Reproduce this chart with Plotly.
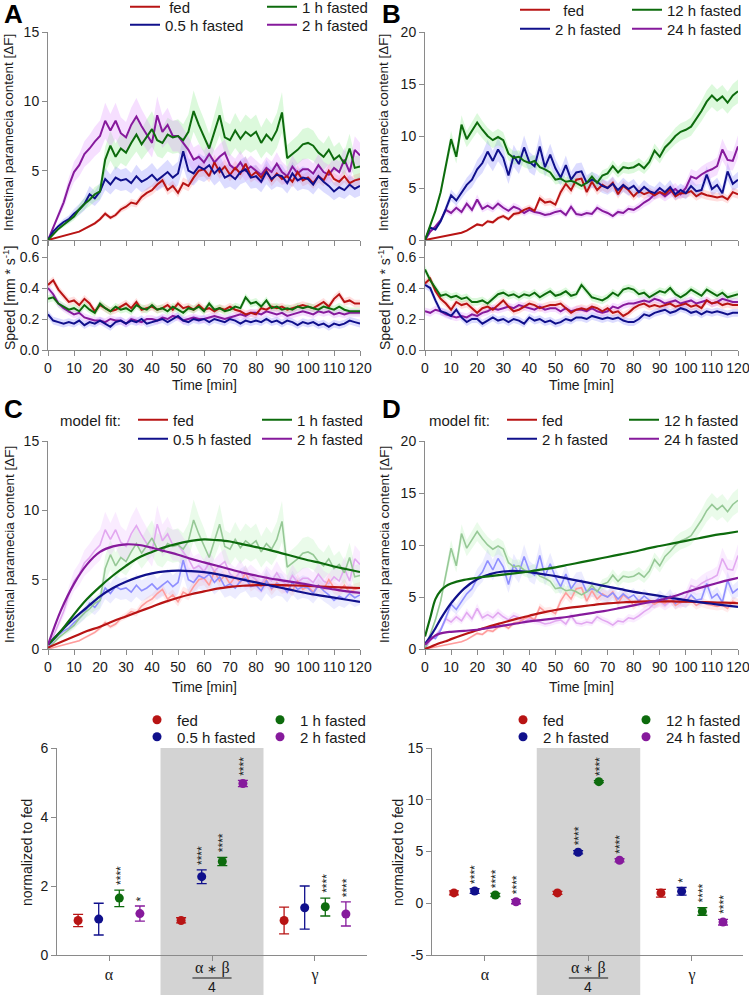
import plotly.graph_objects as go

W, H = 749, 995
FONT = "Liberation Sans, Arial, sans-serif"
SERIF = "Liberation Serif, Times New Roman, serif"
TXT = "#1a1a1a"
AXC = "#8a8a8a"

# ---------------- data ----------------
TIME = list(range(0, 121, 2))
TIME_TICKS = list(range(0, 121, 10))

NAMES_AC = ["fed", "0.5 h fasted", "1 h fasted", "2 h fasted"]
NAMES_BD = ["fed", "2 h fasted", "12 h fasted", "24 h fasted"]

# Panel A – intestinal paramecia content [dF]
A_FED = [0.0, 0.1, 0.2, 0.3, 0.4, 0.5, 0.6, 0.8, 1.0, 1.2,
         1.5, 1.9, 1.6, 1.8, 2.2, 2.4, 2.7, 2.6, 3.1, 3.4,
         3.6, 4.0, 4.3, 3.6, 3.9, 3.4, 4.1, 3.9, 4.5, 5.0,
         5.1, 4.6, 5.6, 4.9, 5.3, 4.7, 5.2, 4.8, 5.5, 4.6,
         4.9, 4.5, 5.0, 4.3, 4.8, 4.4, 4.6, 4.2, 4.9, 4.3,
         4.5, 4.1, 4.6, 4.3, 5.0, 4.4, 4.2, 4.6, 4.1, 4.3,
         4.4]
A_H05 = [0.0, 0.6, 1.0, 1.3, 1.5, 1.9, 2.2, 2.6, 3.3, 3.0,
         3.5, 4.4, 4.0, 4.5, 4.3, 4.4, 4.1, 4.6, 4.2, 4.4,
         4.7, 4.3, 4.6, 4.9, 4.5, 4.8, 6.4, 5.0, 4.8, 5.3,
         5.1, 5.4, 4.8, 5.2, 4.5, 4.7, 4.4, 4.9, 5.1, 4.5,
         4.6, 4.2, 4.9, 4.4, 4.7, 4.6, 4.1, 4.8, 4.3, 4.5,
         4.4, 4.0, 4.6, 4.2, 3.9, 3.5, 3.8, 3.6, 4.0, 3.7,
         3.9]
A_H1 = [0.0, 0.4, 0.8, 1.1, 1.4, 1.7, 2.2, 2.6, 2.9, 3.3,
        3.5, 5.8, 6.8, 6.0, 6.6, 6.3, 7.0, 7.6, 6.9, 7.5,
        8.0, 7.2, 7.0, 7.6, 7.4, 7.5, 7.2, 7.8, 9.3, 8.3,
        7.5, 6.6, 7.8, 9.0, 7.4, 7.2, 7.9, 7.3, 7.8, 7.5,
        7.8, 7.0, 7.6, 7.2, 7.9, 9.2, 5.9, 6.2, 6.5, 6.9,
        7.0, 6.8, 6.3, 6.0, 6.5, 5.8, 6.1, 5.5, 6.6, 5.2,
        5.3]
A_H2 = [0.0, 0.9, 1.8, 2.7, 3.9, 4.9, 5.4, 6.2, 6.6, 7.1,
        7.5, 8.6, 7.9, 8.6, 7.7, 7.4, 8.3, 8.9, 8.2, 7.6,
        7.0, 9.0, 7.8, 8.3, 7.5, 7.5, 7.0, 6.5, 5.8, 6.0,
        5.6, 6.2, 5.6, 6.0, 6.3, 5.4, 5.1, 5.6, 5.0, 5.3,
        5.0, 4.7, 5.2, 4.9, 5.5, 4.9, 4.6, 5.3, 4.8, 5.1,
        5.1, 4.8, 5.4, 4.9, 4.7, 5.2, 4.9, 5.8, 4.9, 6.5,
        6.1]
A_SEM_REL = [0.10, 0.18, 0.16, 0.15]

# Panel B – intestinal paramecia content [dF]
B_FED = [0.0, 0.1, 0.2, 0.3, 0.4, 0.5, 0.6, 0.7, 0.9, 1.2,
         1.5, 1.4, 1.8, 1.7, 2.1, 2.3, 2.0, 2.5, 2.6, 2.9,
         3.1, 2.8, 4.0, 3.6, 3.7, 3.4, 4.6, 5.4, 4.8, 5.8,
         5.9, 4.6, 5.6, 4.8, 5.3, 5.0, 5.5, 4.4, 5.2, 4.8,
         4.2, 4.7, 4.4, 4.6, 4.3, 4.6, 4.4, 4.9, 4.2, 4.5,
         4.5, 4.7, 4.2, 4.5, 4.3, 4.2, 4.1, 4.2, 3.9, 4.6,
         4.4]
B_H2 = [0.0, 1.2, 1.0, 1.8, 3.0, 4.3, 3.8, 4.6, 5.3, 5.8,
        6.8, 7.4, 8.5, 7.6, 8.7, 7.9, 6.2, 8.1, 7.3, 8.9,
        7.5, 7.1, 9.0, 7.0, 8.2, 6.9, 6.0, 7.2, 5.8, 6.5,
        6.6, 5.5, 5.8, 5.6, 5.2, 5.0, 5.4, 4.8, 5.3, 4.9,
        5.2, 4.6, 5.1, 4.7, 4.5, 5.0, 4.6, 5.1, 4.4, 4.8,
        4.5, 5.2, 4.7, 4.8, 6.3, 4.9, 5.3, 4.5, 6.6, 5.4,
        5.8]
B_H12 = [0.0, 1.5, 2.8, 4.6, 7.1, 9.7, 8.0, 11.1, 9.7, 10.5,
         11.3, 10.6, 10.0, 9.6, 9.9, 9.6, 8.3, 7.9, 8.0, 7.6,
         7.4, 7.6, 7.0, 6.8, 6.5, 5.8, 5.9, 5.6, 5.7, 5.5,
         5.2, 5.5, 6.1, 5.5, 6.2, 6.4, 7.1, 6.5, 7.0, 6.9,
         7.0, 7.3, 6.9, 7.5, 8.6, 8.0, 8.9, 9.4, 10.0, 10.4,
         10.6, 10.9, 11.6, 12.4, 13.3, 13.9, 13.4, 13.8, 13.2, 13.9,
         14.3]
B_H24 = [0.0, 0.8, 1.3, 1.9, 2.9, 2.6, 3.1, 2.7, 3.5, 2.9,
         3.9, 3.0, 3.3, 3.0, 3.5, 3.1, 2.8, 3.2, 3.0, 2.6,
         2.9, 2.7, 2.6, 2.4, 2.5, 2.7, 2.8, 2.4, 3.2, 2.5,
         2.4, 2.6, 2.5, 3.1, 2.8, 2.6, 2.3, 2.7, 2.6, 3.0,
         2.9, 3.2, 3.6, 3.9, 4.4, 4.6, 4.2, 4.6, 4.9, 4.4,
         5.0, 6.1, 5.9, 6.3, 6.6, 6.8, 7.1, 8.7, 7.7, 7.6,
         9.0]
B_SEM_REL = [0.10, 0.13, 0.08, 0.12]

# Speed [mm/s]
SA_FED = [0.42, 0.45, 0.39, 0.35, 0.31, 0.32, 0.29, 0.33, 0.30, 0.25,
          0.29, 0.27, 0.25, 0.26, 0.28, 0.30, 0.27, 0.31, 0.26, 0.27,
          0.28, 0.26, 0.27, 0.29, 0.26, 0.30, 0.27, 0.28, 0.26, 0.29,
          0.26, 0.27, 0.25, 0.27, 0.26, 0.28, 0.26, 0.25, 0.23, 0.24,
          0.23, 0.27, 0.26, 0.28, 0.27, 0.28, 0.26, 0.27, 0.28, 0.29,
          0.28, 0.27, 0.29, 0.31, 0.28, 0.33, 0.36, 0.31, 0.32, 0.30,
          0.30]
SA_H05 = [0.23, 0.19, 0.18, 0.17, 0.18, 0.17, 0.19, 0.16, 0.18, 0.17,
          0.19, 0.17, 0.15, 0.18, 0.19, 0.17, 0.19, 0.18, 0.20, 0.17,
          0.18, 0.19, 0.20, 0.18, 0.20, 0.22, 0.19, 0.18, 0.20, 0.19,
          0.20, 0.18, 0.20, 0.19, 0.18, 0.20, 0.19, 0.17, 0.19, 0.18,
          0.19, 0.18, 0.20, 0.18, 0.19, 0.17, 0.19, 0.18, 0.16, 0.18,
          0.17, 0.18, 0.16, 0.17, 0.15, 0.17, 0.16, 0.17, 0.19, 0.18,
          0.17]
SA_H1 = [0.33, 0.34, 0.30, 0.28, 0.26, 0.27, 0.25, 0.29, 0.26, 0.24,
         0.30, 0.27, 0.25, 0.28, 0.26, 0.27, 0.25, 0.29, 0.27, 0.26,
         0.29, 0.26, 0.27, 0.25, 0.28, 0.26, 0.24, 0.27, 0.26, 0.28,
         0.25, 0.30, 0.26, 0.27, 0.25, 0.26, 0.28, 0.27, 0.34, 0.30,
         0.31, 0.28, 0.32, 0.27, 0.28, 0.26, 0.27, 0.26, 0.28, 0.27,
         0.28, 0.27, 0.26, 0.28, 0.27, 0.26, 0.28, 0.26, 0.25, 0.25,
         0.25]
SA_H2 = [0.40, 0.36, 0.30, 0.27, 0.25, 0.23, 0.24, 0.21, 0.20, 0.19,
         0.19, 0.18, 0.20, 0.19, 0.19, 0.17, 0.20, 0.19, 0.18, 0.20,
         0.20, 0.19, 0.21, 0.20, 0.22, 0.21, 0.19, 0.20, 0.21, 0.20,
         0.20, 0.21, 0.22, 0.21, 0.20, 0.21, 0.22, 0.23, 0.22, 0.24,
         0.24, 0.23, 0.25, 0.24, 0.23, 0.24, 0.22, 0.23, 0.24, 0.25,
         0.24, 0.23, 0.25, 0.24, 0.25, 0.23, 0.24, 0.23, 0.24, 0.24,
         0.24]
SB_FED = [0.43, 0.46, 0.38, 0.33, 0.30, 0.26, 0.31, 0.29, 0.30, 0.27,
          0.24, 0.27, 0.28, 0.26, 0.29, 0.32, 0.28, 0.25, 0.26, 0.28,
          0.30, 0.29, 0.27, 0.28, 0.29, 0.29, 0.30, 0.27, 0.24, 0.26,
          0.27, 0.26, 0.28, 0.27, 0.25, 0.27, 0.24, 0.25, 0.22, 0.24,
          0.27, 0.29, 0.30, 0.28, 0.29, 0.28, 0.29, 0.30, 0.28, 0.29,
          0.30, 0.28, 0.29, 0.27, 0.32, 0.30, 0.31, 0.29, 0.30, 0.29,
          0.29]
SB_H2 = [0.42, 0.40, 0.32, 0.25, 0.24, 0.22, 0.26, 0.21, 0.18, 0.20,
         0.20, 0.17, 0.19, 0.21, 0.19, 0.20, 0.18, 0.20, 0.19, 0.17,
         0.21, 0.19, 0.20, 0.18, 0.19, 0.17, 0.18, 0.20, 0.19, 0.21,
         0.21, 0.20, 0.22, 0.21, 0.20, 0.21, 0.20, 0.21, 0.19, 0.18,
         0.18, 0.20, 0.23, 0.22, 0.24, 0.25, 0.26, 0.24, 0.25, 0.27,
         0.26, 0.24, 0.25, 0.23, 0.25, 0.24, 0.25, 0.24, 0.23, 0.24,
         0.24]
SB_H12 = [0.52, 0.45, 0.40, 0.35, 0.36, 0.34, 0.35, 0.33, 0.34, 0.31,
          0.31, 0.32, 0.30, 0.33, 0.36, 0.37, 0.35, 0.36, 0.34, 0.36,
          0.35, 0.37, 0.34, 0.36, 0.38, 0.35, 0.36, 0.38, 0.35, 0.36,
          0.42, 0.38, 0.34, 0.33, 0.32, 0.34, 0.37, 0.35, 0.39, 0.40,
          0.39, 0.36, 0.37, 0.34, 0.36, 0.38, 0.37, 0.40, 0.36, 0.34,
          0.36, 0.39, 0.37, 0.35, 0.39, 0.37, 0.35, 0.37, 0.34, 0.35,
          0.36]
SB_H24 = [0.25, 0.24, 0.26, 0.25, 0.23, 0.22, 0.21, 0.22, 0.21, 0.23,
          0.22, 0.24, 0.25, 0.27, 0.26, 0.27, 0.28, 0.27, 0.29, 0.28,
          0.27, 0.26, 0.28, 0.26, 0.27, 0.27, 0.25, 0.27, 0.25, 0.26,
          0.26, 0.25, 0.27, 0.25, 0.24, 0.25, 0.28, 0.27, 0.29, 0.30,
          0.30, 0.31, 0.32, 0.31, 0.33, 0.32, 0.30, 0.31, 0.32, 0.30,
          0.31, 0.32, 0.30, 0.31, 0.32, 0.30, 0.31, 0.33, 0.32, 0.31,
          0.31]
SPEED_SEM = 0.025

# Panel C – model fits
FIT_T_C = list(range(0, 121, 5))
C_FIT_FED = [0.1, 0.5, 0.9, 1.3, 1.6, 2.0, 2.35, 2.7, 3.05, 3.4, 3.7, 3.95, 4.15,
             4.35, 4.48, 4.56, 4.6, 4.62, 4.6, 4.58, 4.55, 4.5, 4.47, 4.43, 4.4]
C_FIT_H05 = [0.3, 1.3, 2.2, 3.0, 3.8, 4.4, 4.85, 5.2, 5.45, 5.6, 5.65, 5.62, 5.55,
             5.4, 5.2, 5.0, 4.8, 4.6, 4.4, 4.2, 4.0, 3.85, 3.7, 3.55, 3.4]
C_FIT_H1 = [0.3, 1.3, 2.5, 3.6, 4.5, 5.3, 6.0, 6.6, 7.0, 7.35, 7.6, 7.8, 7.9,
            7.85, 7.75, 7.55, 7.35, 7.15, 6.9, 6.65, 6.4, 6.2, 5.95, 5.75, 5.55]
C_FIT_H2 = [0.3, 2.8, 4.7, 6.1, 7.0, 7.4, 7.55, 7.5, 7.3, 7.05, 6.8, 6.5, 6.25,
            6.0, 5.75, 5.5, 5.3, 5.1, 4.95, 4.8, 4.65, 4.45, 4.3, 4.15, 4.05]

# Panel D – model fits
FIT_T_D = [0, 2, 4, 6, 8, 10] + list(range(15, 121, 5))
D_FIT_FED = [0.0, 0.2, 0.4, 0.6, 0.75, 0.95, 1.4, 1.8, 2.2, 2.55, 2.9, 3.2, 3.5, 3.75,
             3.95, 4.1, 4.25, 4.38, 4.47, 4.53, 4.57, 4.58, 4.57, 4.55, 4.52, 4.48, 4.45, 4.4]
D_FIT_H2 = [0.5, 1.2, 2.0, 2.9, 3.7, 4.4, 5.8, 6.7, 7.2, 7.45, 7.5, 7.4, 7.2, 7.0,
            6.75, 6.5, 6.25, 6.0, 5.75, 5.5, 5.3, 5.1, 4.9, 4.7, 4.5, 4.35, 4.2, 4.05]
D_FIT_H12 = [1.2, 3.0, 4.8, 5.6, 6.05, 6.3, 6.65, 6.85, 7.0, 7.15, 7.3, 7.45, 7.65, 7.85,
             8.1, 8.35, 8.6, 8.85, 9.1, 9.35, 9.65, 9.9, 10.15, 10.4, 10.65, 10.9, 11.1, 11.3]
D_FIT_H24 = [0.4, 0.9, 1.3, 1.5, 1.6, 1.65, 1.75, 1.85, 2.05, 2.25, 2.45, 2.65, 2.8, 2.95,
             3.1, 3.3, 3.5, 3.7, 3.95, 4.2, 4.45, 4.7, 5.05, 5.45, 5.85, 6.2, 6.55, 6.85]

# Bottom panels – parameters normalized to fed
PARAM_TICKS = ["α", " ", "γ"]
PARAM_FRAC_TOP = "α <span style='font-size:12px'>∗</span> β"
PARAM_FRAC_BOTTOM = "4"
GROUP_OFFSETS = [-0.3, -0.1, 0.1, 0.3]

L_MEAN = [[1.0, 1.0, 1.0], [1.04, 2.27, 1.37], [1.65, 2.71, 1.40], [1.20, 4.97, 1.19]]
L_HI = [[1.18, 1.08, 1.39], [1.50, 2.47, 2.00], [1.88, 2.83, 1.65], [1.42, 5.06, 1.54]]
L_LO = [[0.82, 0.93, 0.61], [0.58, 2.07, 0.75], [1.40, 2.59, 1.13], [0.98, 4.88, 0.84]]
L_STARS = [["", "", ""], ["", "****", ""], ["****", "****", "****"], ["*", "****", "****"]]

R_MEAN = [[1.0, 1.0, 1.0], [1.18, 4.93, 1.15], [0.80, 11.75, -0.80], [0.15, 4.15, -1.82]]
R_HI = [[1.20, 1.15, 1.35], [1.40, 5.08, 1.52], [0.95, 11.85, -0.42], [0.35, 4.30, -1.55]]
R_LO = [[0.80, 0.85, 0.60], [0.96, 4.78, 0.78], [0.65, 11.65, -1.16], [-0.05, 4.00, -2.10]]
R_STARS = [["", "", ""], ["****", "****", "*"], ["****", "****", "****"], ["****", "****", "****"]]

# ---------------- styles ----------------
COL = ["#b81414", "#10108c", "#0d6b0d", "#861a9c"]
BAND = ["rgba(255,140,140,0.28)", "rgba(130,130,255,0.28)",
        "rgba(140,235,140,0.30)", "rgba(225,150,255,0.30)"]
FADE = ["#ff9c9c", "#8f8fff", "#96c896", "#e2a8f0"]
FADEBAND = ["rgba(255,170,170,0.22)", "rgba(170,170,255,0.22)",
            "rgba(170,240,170,0.25)", "rgba(235,180,255,0.25)"]


def py(p):
    return 1 - p / H


def px(p):
    return p / W


XL = [px(48), px(360)]
XR = [px(425), px(738)]
Y_TOP = [py(240), py(32)]
Y_SPD = [py(350), py(240)]
Y_MID = [py(649), py(441)]
Y_BOT = [py(955), py(748)]
XBL = [px(57), px(367)]
XBR = [px(432), px(743)]

fig = go.Figure()

legend_specs = []


def new_legend(xpx, ypx):
    n = len(legend_specs) + 1
    lid = "legend" if n == 1 else f"legend{n}"
    legend_specs.append((lid, xpx, ypx))
    return lid


def band(x, y, sem, rel, fill, xa, ya):
    if rel:
        up = [v * (1 + sem) for v in y]
        lo = [v * (1 - sem) for v in y]
    else:
        up = [v + sem for v in y]
        lo = [v - sem for v in y]
    fig.add_trace(go.Scatter(x=x + x[::-1], y=up + lo[::-1], fill="toself", fillcolor=fill,
                             line=dict(width=0), mode="lines", hoverinfo="skip",
                             showlegend=False, xaxis=xa, yaxis=ya))


def line(x, y, color, xa, ya, width=2.0, name=None, legend=None, shape="linear"):
    fig.add_trace(go.Scatter(x=x, y=y, mode="lines", line=dict(color=color, width=width, shape=shape),
                             name=name, showlegend=legend is not None,
                             legend=legend if legend else "legend",
                             xaxis=xa, yaxis=ya))


A_SERIES = [A_FED, A_H05, A_H1, A_H2]
B_SERIES = [B_FED, B_H2, B_H12, B_H24]
SA_SERIES = [SA_FED, SA_H05, SA_H1, SA_H2]
SB_SERIES = [SB_FED, SB_H2, SB_H12, SB_H24]
C_FITS = [C_FIT_FED, C_FIT_H05, C_FIT_H1, C_FIT_H2]
D_FITS = [D_FIT_FED, D_FIT_H2, D_FIT_H12, D_FIT_H24]

DRAW_ORDER = [3, 0, 1, 2]

LEG_A = [(125, 7), (125, 25), (262, 7), (262, 25)]
LEG_B = [(515, 10), (515, 29), (627, 10), (627, 29)]
LEG_C = [(133, 420), (133, 439), (257, 420), (257, 439)]
LEG_D = [(502, 420), (502, 439), (624, 420), (624, 439)]
LEG_BL = [(137, 720), (137, 737), (260, 720), (260, 737)]
LEG_BR = [(503, 720), (503, 737), (626, 720), (626, 737)]

LEG_NAMES_A = ["\u00a0fed"] + NAMES_AC[1:]
LEG_NAMES_B = ["\u00a0\u00a0fed"] + NAMES_BD[1:]

# Panel A
for i in range(4):
    band(TIME, A_SERIES[i], A_SEM_REL[i], True, BAND[i], "x", "y")
for i in DRAW_ORDER:
    lid = new_legend(*LEG_A[i])
    line(TIME, A_SERIES[i], COL[i], "x", "y", name=LEG_NAMES_A[i], legend=lid)
for i in range(4):
    band(TIME, SA_SERIES[i], SPEED_SEM, False, BAND[i], "x2", "y2")
for i in DRAW_ORDER:
    line(TIME, SA_SERIES[i], COL[i], "x2", "y2")

# Panel B
for i in range(4):
    band(TIME, B_SERIES[i], B_SEM_REL[i], True, BAND[i], "x3", "y3")
for i in DRAW_ORDER:
    lid = new_legend(*LEG_B[i])
    line(TIME, B_SERIES[i], COL[i], "x3", "y3", name=LEG_NAMES_B[i], legend=lid)
for i in range(4):
    band(TIME, SB_SERIES[i], SPEED_SEM, False, BAND[i], "x4", "y4")
for i in DRAW_ORDER:
    line(TIME, SB_SERIES[i], COL[i], "x4", "y4")

# Panel C
for i in range(4):
    band(TIME, A_SERIES[i], A_SEM_REL[i], True, FADEBAND[i], "x5", "y5")
for i in DRAW_ORDER:
    line(TIME, A_SERIES[i], FADE[i], "x5", "y5", width=1.6)
for i in range(4):
    lid = new_legend(*LEG_C[i])
    line(FIT_T_C, C_FITS[i], COL[i], "x5", "y5", width=2.2, name=NAMES_AC[i], legend=lid, shape="spline")

# Panel D
for i in range(4):
    band(TIME, B_SERIES[i], B_SEM_REL[i], True, FADEBAND[i], "x6", "y6")
for i in DRAW_ORDER:
    line(TIME, B_SERIES[i], FADE[i], "x6", "y6", width=1.6)
for i in range(4):
    lid = new_legend(*LEG_D[i])
    line(FIT_T_D, D_FITS[i], COL[i], "x6", "y6", width=2.2, name=NAMES_BD[i], legend=lid, shape="spline")

annotations = []


def dots(means, his, los, stars, names, legpos, xa, ya):
    for g in range(4):
        xs = [k + GROUP_OFFSETS[g] for k in range(3)]
        lid = new_legend(*legpos[g])
        fig.add_trace(go.Scatter(
            x=xs, y=means[g], mode="markers", name=names[g], legend=lid,
            marker=dict(color=COL[g], size=9),
            error_y=dict(type="data", symmetric=False,
                         array=[h - m for h, m in zip(his[g], means[g])],
                         arrayminus=[m - l for m, l in zip(means[g], los[g])],
                         color=COL[g], thickness=1.3, width=5),
            xaxis=xa, yaxis=ya))
        for k in range(3):
            if stars[g][k]:
                annotations.append(dict(x=xs[k], y=his[g][k], xref=xa, yref=ya, text=stars[g][k],
                                        showarrow=False, textangle=-90, yanchor="bottom",
                                        yshift=3, xshift=1,
                                        font=dict(size=12, color="#222222", family=FONT)))


dots(L_MEAN, L_HI, L_LO, L_STARS, NAMES_AC, LEG_BL, "x7", "y7")
dots(R_MEAN, R_HI, R_LO, R_STARS, NAMES_BD, LEG_BR, "x8", "y8")

# ---------------- axes ----------------
AX = dict(showline=True, linecolor=AXC, linewidth=1, ticks="outside", ticklen=5, tickwidth=1,
          tickcolor=AXC, showgrid=False, zeroline=False, ticklabeloverflow="allow",
          tickfont=dict(size=14, color=TXT, family=FONT))


def xtime(domain, anchor, labels):
    return dict(domain=domain, anchor=anchor, range=[0, 120], tickmode="array",
                tickvals=TIME_TICKS, showticklabels=labels, **AX)


def yax(domain, anchor, rng, vals, fmt=None, text=None):
    d = dict(domain=domain, anchor=anchor, range=rng, tickmode="array", tickvals=vals, **AX)
    if text is not None:
        d["ticktext"] = text
    if fmt:
        d["tickformat"] = fmt
    return d


def xcat(domain, anchor, rng):
    d = dict(AX)
    d["tickfont"] = dict(size=16, color=TXT, family=SERIF)
    return dict(domain=domain, anchor=anchor, range=rng, tickmode="array",
                tickvals=[0, 1, 2], ticktext=PARAM_TICKS, **d)


layout = dict(
    width=W, height=H, margin=dict(l=0, r=0, t=0, b=0, autoexpand=False),
    paper_bgcolor="white", plot_bgcolor="rgba(0,0,0,0)",
    font=dict(family=FONT, color=TXT, size=14),
    xaxis=xtime(XL, "y", False), yaxis=yax(Y_TOP, "x", [0, 15], [0, 5, 10, 15]),
    xaxis2=xtime(XL, "y2", True), yaxis2=yax(Y_SPD, "x2", [0, 0.71], [0, 0.2, 0.4, 0.6], ".1f"),
    xaxis3=xtime(XR, "y3", False), yaxis3=yax(Y_TOP, "x3", [0, 20], [0, 5, 10, 15, 20]),
    xaxis4=xtime(XR, "y4", True), yaxis4=yax(Y_SPD, "x4", [0, 0.71], [0, 0.2, 0.4, 0.6], ".1f"),
    xaxis5=xtime(XL, "y5", True), yaxis5=yax(Y_MID, "x5", [0, 15], [0, 5, 10, 15]),
    xaxis6=xtime(XR, "y6", True), yaxis6=yax(Y_MID, "x6", [0, 20], [0, 5, 10, 15, 20]),
    xaxis7=xcat(XBL, "y7", [-0.505, 2.505]), yaxis7=yax(Y_BOT, "x7", [0, 6], [0, 2, 4, 6]),
    xaxis8=xcat(XBR, "y8", [-0.512, 2.493]),
    yaxis8=yax(Y_BOT, "x8", [-5, 15], [-5, 0, 5, 10, 15], text=["-5", "0", "5", "10", "15"]),
)

for lid, xp, yp in legend_specs:
    layout[lid] = dict(x=px(xp), y=py(yp), xanchor="left", yanchor="middle",
                       bgcolor="rgba(0,0,0,0)", borderwidth=0, itemwidth=30,
                       font=dict(size=15, color=TXT, family=FONT))

fig.update_layout(**layout)

shapes = [
    dict(type="rect", xref="x7", yref="paper", x0=0.5, x1=1.5, y0=0, y1=Y_BOT[1],
         fillcolor="#d3d3d3", line=dict(width=0), layer="below"),
    dict(type="rect", xref="x8", yref="paper", x0=0.5, x1=1.5, y0=0, y1=Y_BOT[1],
         fillcolor="#d3d3d3", line=dict(width=0), layer="below"),
    dict(type="line", xref="x7", yref="paper", x0=0.81, x1=1.19, y0=py(978), y1=py(978),
         line=dict(color=TXT, width=1.2)),
    dict(type="line", xref="x8", yref="paper", x0=0.81, x1=1.19, y0=py(978), y1=py(978),
         line=dict(color=TXT, width=1.2)),
]


def txt(x, y, s, size=14, angle=0, xanchor="center", family=FONT):
    annotations.append(dict(x=px(x), y=py(y), xref="paper", yref="paper", text=s, showarrow=False,
                            textangle=angle, xanchor=xanchor, yanchor="middle",
                            font=dict(size=size, color=TXT, family=family)))


for xa in ["x7", "x8"]:
    annotations.append(dict(x=1, y=py(968), xref=xa, yref="paper", text=PARAM_FRAC_TOP,
                            showarrow=False, yanchor="middle",
                            font=dict(size=16, color=TXT, family=SERIF)))
    annotations.append(dict(x=1, y=py(987), xref=xa, yref="paper", text=PARAM_FRAC_BOTTOM,
                            showarrow=False, yanchor="middle",
                            font=dict(size=14, color=TXT, family=FONT)))

for letter, (lx, ly) in zip("ABCD", [(14, 14), (391, 14), (14, 409), (391, 409)]):
    annotations.append(dict(x=px(lx), y=py(ly), xref="paper", yref="paper", text=f"<b>{letter}</b>",
                            showarrow=False, xanchor="center", yanchor="middle",
                            font=dict(size=26, color="black", family=FONT)))

YT = "Intestinal paramecia content [ΔF]"
SP = "Speed [mm * s<sup>-1</sup>]"
txt(9, 133, YT, 13.5, -90)
txt(384, 133, YT, 13.5, -90)
txt(9, 298, SP, 14, -90)
txt(384, 298, SP, 14, -90)
txt(9, 545, YT, 13.5, -90)
txt(384, 545, YT, 13.5, -90)
txt(204, 385, "Time [min]", 14)
txt(581, 385, "Time [min]", 14)
txt(204, 687, "Time [min]", 14)
txt(581, 687, "Time [min]", 14)
txt(27, 853, "normalized to fed", 14, -90)
txt(398, 853, "normalized to fed", 14, -90)
txt(58, 420, "model fit:", 15, 0, "left")
txt(427, 420, "model fit:", 15, 0, "left")

fig.update_layout(shapes=shapes, annotations=annotations)

fig.write_html("out.html", config={"displayModeBar": False, "staticPlot": True},
               post_script="document.body.style.margin='0';document.body.style.overflow='hidden';")
